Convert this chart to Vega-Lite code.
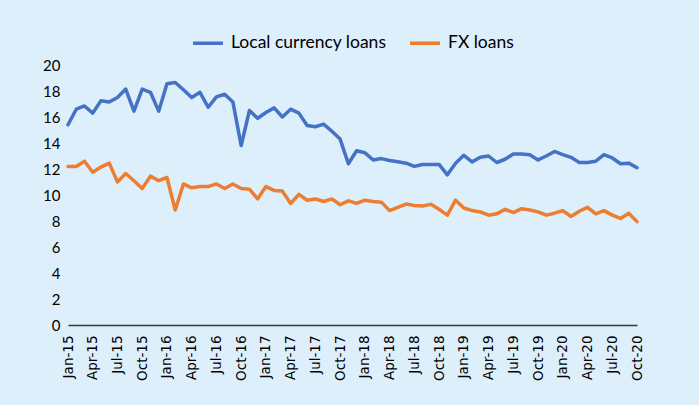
{
  "$schema": "https://vega.github.io/schema/vega-lite/v6.json",
  "width": 569,
  "height": 260,
  "autosize": {"type": "none"},
  "padding": {"left": 68, "top": 65, "right": 62, "bottom": 80},
  "background": "#DEEFFC",
  "config": {"view": {"stroke": null}, "font": "Lato"},
  "data": {"values": [
    {"m":"Jan-15","L":15.4,"F":12.2},{"m":"Feb-15","L":16.6,"F":12.2},{"m":"Mar-15","L":16.85,"F":12.6},{"m":"Apr-15","L":16.3,"F":11.75},{"m":"May-15","L":17.25,"F":12.15},{"m":"Jun-15","L":17.15,"F":12.45},{"m":"Jul-15","L":17.5,"F":11.0},{"m":"Aug-15","L":18.15,"F":11.65},{"m":"Sep-15","L":16.45,"F":11.1},{"m":"Oct-15","L":18.15,"F":10.5},{"m":"Nov-15","L":17.9,"F":11.45},{"m":"Dec-15","L":16.45,"F":11.1},
    {"m":"Jan-16","L":18.55,"F":11.35},{"m":"Feb-16","L":18.65,"F":8.85},{"m":"Mar-16","L":18.1,"F":10.85},{"m":"Apr-16","L":17.5,"F":10.55},{"m":"May-16","L":17.9,"F":10.65},{"m":"Jun-16","L":16.75,"F":10.65},{"m":"Jul-16","L":17.55,"F":10.85},{"m":"Aug-16","L":17.75,"F":10.5},{"m":"Sep-16","L":17.15,"F":10.85},{"m":"Oct-16","L":13.8,"F":10.5},{"m":"Nov-16","L":16.5,"F":10.45},{"m":"Dec-16","L":15.9,"F":9.7},
    {"m":"Jan-17","L":16.35,"F":10.65},{"m":"Feb-17","L":16.7,"F":10.35},{"m":"Mar-17","L":16.0,"F":10.3},{"m":"Apr-17","L":16.6,"F":9.35},{"m":"May-17","L":16.3,"F":10.05},{"m":"Jun-17","L":15.35,"F":9.6},{"m":"Jul-17","L":15.25,"F":9.7},{"m":"Aug-17","L":15.45,"F":9.5},{"m":"Sep-17","L":14.9,"F":9.7},{"m":"Oct-17","L":14.3,"F":9.25},{"m":"Nov-17","L":12.4,"F":9.55},{"m":"Dec-17","L":13.4,"F":9.35},
    {"m":"Jan-18","L":13.25,"F":9.6},{"m":"Feb-18","L":12.7,"F":9.5},{"m":"Mar-18","L":12.8,"F":9.45},{"m":"Apr-18","L":12.65,"F":8.8},{"m":"May-18","L":12.55,"F":9.05},{"m":"Jun-18","L":12.45,"F":9.3},{"m":"Jul-18","L":12.2,"F":9.2},{"m":"Aug-18","L":12.35,"F":9.15},{"m":"Sep-18","L":12.35,"F":9.28},{"m":"Oct-18","L":12.35,"F":8.9},{"m":"Nov-18","L":11.55,"F":8.45},{"m":"Dec-18","L":12.45,"F":9.6},
    {"m":"Jan-19","L":13.05,"F":9.0},{"m":"Feb-19","L":12.55,"F":8.8},{"m":"Mar-19","L":12.9,"F":8.7},{"m":"Apr-19","L":13.0,"F":8.45},{"m":"May-19","L":12.5,"F":8.55},{"m":"Jun-19","L":12.75,"F":8.9},{"m":"Jul-19","L":13.15,"F":8.65},{"m":"Aug-19","L":13.15,"F":8.95},{"m":"Sep-19","L":13.1,"F":8.85},{"m":"Oct-19","L":12.7,"F":8.7},{"m":"Nov-19","L":13.0,"F":8.45},{"m":"Dec-19","L":13.35,"F":8.6},
    {"m":"Jan-20","L":13.1,"F":8.8},{"m":"Feb-20","L":12.9,"F":8.35},{"m":"Mar-20","L":12.5,"F":8.75},{"m":"Apr-20","L":12.5,"F":9.05},{"m":"May-20","L":12.6,"F":8.55},{"m":"Jun-20","L":13.1,"F":8.8},{"m":"Jul-20","L":12.85,"F":8.45},{"m":"Aug-20","L":12.4,"F":8.2},{"m":"Sep-20","L":12.45,"F":8.6},{"m":"Oct-20","L":12.1,"F":7.95}
  ]},
  "transform": [
    {"fold": ["L", "F"], "as": ["key", "value"]},
    {"lookup": "key", "from": {"data": {"values": [{"key": "L", "series": "Local currency loans"}, {"key": "F", "series": "FX loans"}]}, "key": "key", "fields": ["series"]}}
  ],
  "mark": {"type": "line", "strokeWidth": 3.5, "strokeJoin": "round", "strokeCap": "round"},
  "encoding": {
    "x": {
      "field": "m", "type": "ordinal", "sort": null,
      "scale": {"type": "point", "padding": 0},
      "axis": {
        "title": null,
        "values": ["Jan-15","Apr-15","Jul-15","Oct-15","Jan-16","Apr-16","Jul-16","Oct-16","Jan-17","Apr-17","Jul-17","Oct-17","Jan-18","Apr-18","Jul-18","Oct-18","Jan-19","Apr-19","Jul-19","Oct-19","Jan-20","Apr-20","Jul-20","Oct-20"],
        "labelAngle": -90,
        "labelFont": "DejaVu Sans",
        "labelFontSize": 13.5,
        "labelColor": "#000000",
        "domainColor": "#3a3a3a",
        "domainWidth": 1.3,
        "ticks": false,
        "labelPadding": 10
      }
    },
    "y": {
      "field": "value", "type": "quantitative",
      "scale": {"domain": [0, 20]},
      "axis": {
        "title": null,
        "values": [0, 2, 4, 6, 8, 10, 12, 14, 16, 18, 20],
        "grid": false, "domain": false, "ticks": false,
        "labelPadding": 8,
        "labelFontSize": 15,
        "labelColor": "#000000"
      }
    },
    "color": {
      "field": "series", "type": "nominal",
      "scale": {"domain": ["Local currency loans", "FX loans"], "range": ["#4472C4", "#ED7D31"]},
      "legend": {
        "title": null,
        "orient": "none",
        "direction": "horizontal",
        "legendX": 123,
        "legendY": -39,
        "symbolType": "stroke",
        "symbolSize": 900,
        "symbolStrokeWidth": 3.5,
        "labelFontSize": 17.5,
        "labelColor": "#000000",
        "columnPadding": 16,
        "labelOffset": 6
      }
    }
  }
}
